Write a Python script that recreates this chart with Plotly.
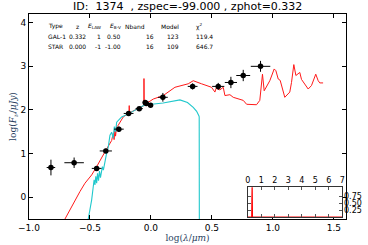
import plotly.graph_objects as go

# Photometric data points
obs_x = [-0.82, -0.63, -0.445, -0.37, -0.263, -0.183, -0.096, -0.047, -0.038, -0.003, 0.098, 0.342, 0.552, 0.656, 0.757, 0.899]
obs_y = [0.68, 0.79, 0.66, 1.06, 1.56, 1.92, 2.03, 2.17, 2.15, 2.11, 2.29, 2.54, 2.54, 2.63, 2.79, 3.00]
obs_xerr = [0.035, 0.08, 0.04, 0.05, 0.04, 0.04, 0.03, 0.02, 0.02, 0.02, 0.04, 0.04, 0.05, 0.05, 0.057, 0.08]
obs_yerr = [0.18, 0.12, 0.05, 0.05, 0.06, 0.05, 0.04, 0.04, 0.04, 0.04, 0.10, 0.07, 0.08, 0.13, 0.13, 0.125]

# Galaxy template (red)
gal_x = [-0.705, -0.664, -0.623, -0.582, -0.541, -0.486, -0.445, -0.41, -0.377, -0.322, -0.31, -0.302,
         -0.295, -0.29, -0.282, -0.268, -0.227, -0.186, -0.18, -0.178, -0.175, -0.15, -0.1, -0.063,
         -0.058, -0.057, -0.055, -0.05, -0.008, 0.019, 0.101, 0.197, 0.306, 0.347, 0.415, 0.497, 0.525,
         0.535, 0.566, 0.593, 0.607, 0.648, 0.675, 0.757, 0.785, 0.866, 0.893, 0.915, 0.929, 0.975,
         1.011, 1.025, 1.044, 1.06, 1.098, 1.139, 1.153, 1.172, 1.189, 1.221, 1.235, 1.262, 1.29,
         1.317, 1.352, 1.372, 1.385, 1.412]
gal_y = [-0.5, -0.29, -0.06, 0.13, 0.32, 0.51, 0.70, 0.86, 1.04, 1.30, 1.46, 1.32, 1.55, 1.40, 1.61,
         1.65, 1.84, 1.92, 1.93, 2.10, 1.93, 1.97, 2.04, 2.10, 2.10, 2.72, 2.12, 2.14, 2.20, 2.25, 2.33,
         2.52, 2.60, 2.67, 2.60, 2.52, 2.41, 2.50, 2.46, 2.52, 2.33, 2.35, 2.29, 2.22, 2.13, 2.12, 2.22,
         2.82, 2.44, 2.67, 2.94, 2.90, 2.71, 2.68, 2.29, 2.41, 2.63, 3.04, 2.79, 2.86, 2.70, 2.58, 2.48,
         2.56, 2.82, 2.67, 2.62, 2.62]

# Star template (cyan)
star_x = [-0.514, -0.5, -0.486, -0.473, -0.466, -0.459, -0.452, -0.445, -0.438, -0.43, -0.422, -0.414,
          -0.405, -0.398, -0.39, -0.377, -0.364, -0.35, -0.336, -0.322, -0.31, -0.3, -0.29, -0.281,
          -0.24, -0.186, -0.1, -0.049, 0.006, 0.1, 0.238, 0.3, 0.347, 0.375, 0.393, 0.396, 0.397]
star_y = [-0.5, -0.3, -0.06, 0.24, 0.40, 0.28, 0.48, 0.32, 0.55, 0.38, 0.60, 0.45, 0.58, 0.70, 0.62,
          0.85, 1.00, 1.15, 1.42, 1.49, 1.35, 1.62, 1.50, 1.72, 1.84, 1.91, 2.03, 2.12, 2.13, 2.16,
          2.23, 2.17, 2.06, 1.97, 1.87, 1.84, -0.6]

# P(z) inset
pz_x = [0.0, 0.30, 0.31, 0.32, 0.33, 0.34, 0.35, 7.0]
pz_y = [0.0, 0.0, 0.6, 1.2, 1.2, 0.6, 0.0, 0.0]
pz_xticks = [0, 1, 2, 3, 4, 5, 6, 7]
pz_yticks = [0.25, 0.5, 0.75]
pz_yticklabels = ["0.25", "0.50", "0.75"]

title_text = "ID:  1374  , zspec=-99.000 , zphot=0.332"
table_header = ["Type", "z", "<i>E</i><sub>LAW</sub>", "<i>E</i><sub>B-V</sub>", "Nband", "Model", "χ<sup>2</sup>"]
table_rows = [["GAL-1", "0.332", "1", "0.50", "16", "123", "119.4"],
              ["STAR", "0.000", "-1", "-1.00", "16", "109", "646.7"]]

fig = go.Figure()
fig.add_trace(go.Scatter(x=gal_x, y=gal_y, mode="lines", line=dict(color="#ff1a1a", width=1), showlegend=False))
fig.add_trace(go.Scatter(x=star_x, y=star_y, mode="lines", line=dict(color="#20c8cc", width=1.1), showlegend=False))
fig.add_trace(go.Scatter(x=obs_x, y=obs_y, mode="markers",
                         marker=dict(color="black", size=5.5),
                         error_x=dict(type="data", array=obs_xerr, color="black", thickness=1, width=0),
                         error_y=dict(type="data", array=obs_yerr, color="black", thickness=1, width=0),
                         showlegend=False))
fig.add_trace(go.Scatter(x=pz_x, y=pz_y, mode="lines", line=dict(color="red", width=1.2),
                         xaxis="x2", yaxis="y2", showlegend=False))

L, R, T, B = 29, 22, 14, 26
W, H = 368, 245
pw, ph = W - L - R, H - T - B

def px(x):
    return (x - L) / pw

def py(y):
    return (H - B - y) / ph

font_small = dict(family="DejaVu Sans", size=6, color="black")
cols_head = [(45.5, "left"), (77, "center"), (103, "right"), (122.5, "right"), (147, "right"), (181, "right"), (194, "left")]
cols_rows = [(45.5, "left"), (77, "center"), (103, "right"), (122.5, "right"), (156, "right"), (180.5, "right"), (194, "left")]
row_y = [26, 36.7, 46.7]
annotations = []
for j, (xx, anc) in enumerate(cols_head):
    annotations.append(dict(x=px(xx), y=py(row_y[0]), xref="paper", yref="paper",
                            text=table_header[j], showarrow=False, xanchor=anc, yanchor="middle", font=font_small))
for i, row in enumerate(table_rows):
    for j, (xx, anc) in enumerate(cols_rows):
        annotations.append(dict(x=px(xx), y=py(row_y[i + 1]), xref="paper", yref="paper",
                                text=row[j], showarrow=False, xanchor=anc, yanchor="middle", font=font_small))

annotations.append(dict(x=0.5, y=py(7), xref="paper", yref="paper", text=title_text, showarrow=False,
                        xanchor="center", yanchor="middle", font=dict(family="DejaVu Sans", size=11, color="black")))

# inset y tick labels on the right (overlapping as in the reference)
for v, lab in zip(pz_yticks, pz_yticklabels):
    annotations.append(dict(x=1.0, xref="x2 domain", y=v, yref="y2", text=lab, showarrow=False,
                            xanchor="left", yanchor="middle", xshift=0,
                            font=dict(family="DejaVu Sans", size=8, color="black")))

axis_common = dict(showgrid=False, zeroline=False, showline=True, linecolor="black", linewidth=1,
                   mirror="ticks", ticks="inside", ticklen=4, tickcolor="black", automargin=False,
                   tickfont=dict(family="DejaVu Sans", size=9, color="black"))

fig.update_layout(
    width=W, height=H, margin=dict(l=L, r=R, t=T, b=B, autoexpand=False),
    paper_bgcolor="white", plot_bgcolor="white",
    annotations=annotations,
    xaxis=dict(range=[-1.0, 1.6], tickvals=[-1.0, -0.5, 0.0, 0.5, 1.0, 1.5], tickformat=".1f",
               title=dict(text="log(<i>λ</i>/<i>μm</i>)", font=dict(family="DejaVu Serif", size=9), standoff=0),
               **axis_common),
    yaxis=dict(range=[-0.5, 4.2], tickvals=[0, 1, 2, 3, 4],
               title=dict(text="log(<i>F</i><sub><i>ν</i></sub>/<i>μJy</i>)", font=dict(family="DejaVu Serif", size=9), standoff=2),
               **axis_common),
    xaxis2=dict(domain=[px(247.7), px(342.3)], anchor="y2", range=[0, 7], side="top", automargin=False,
                tickvals=pz_xticks, showgrid=False, zeroline=False, showline=True,
                linecolor="#333", linewidth=1, mirror="ticks", ticks="inside", ticklen=3, tickcolor="#555",
                tickfont=dict(family="DejaVu Sans", size=8, color="black")),
    yaxis2=dict(domain=[py(217), py(187.3)], anchor="x2", range=[0, 1.1], side="right", automargin=False,
                tickvals=pz_yticks, showticklabels=False, showgrid=False, zeroline=False,
                showline=True, linecolor="#333", linewidth=1, mirror="ticks", ticks="inside", ticklen=3,
                tickcolor="#555"),
)

fig.write_html("out.html", config={"displayModeBar": False, "staticPlot": True},
               post_script="document.body.style.margin='0';")
